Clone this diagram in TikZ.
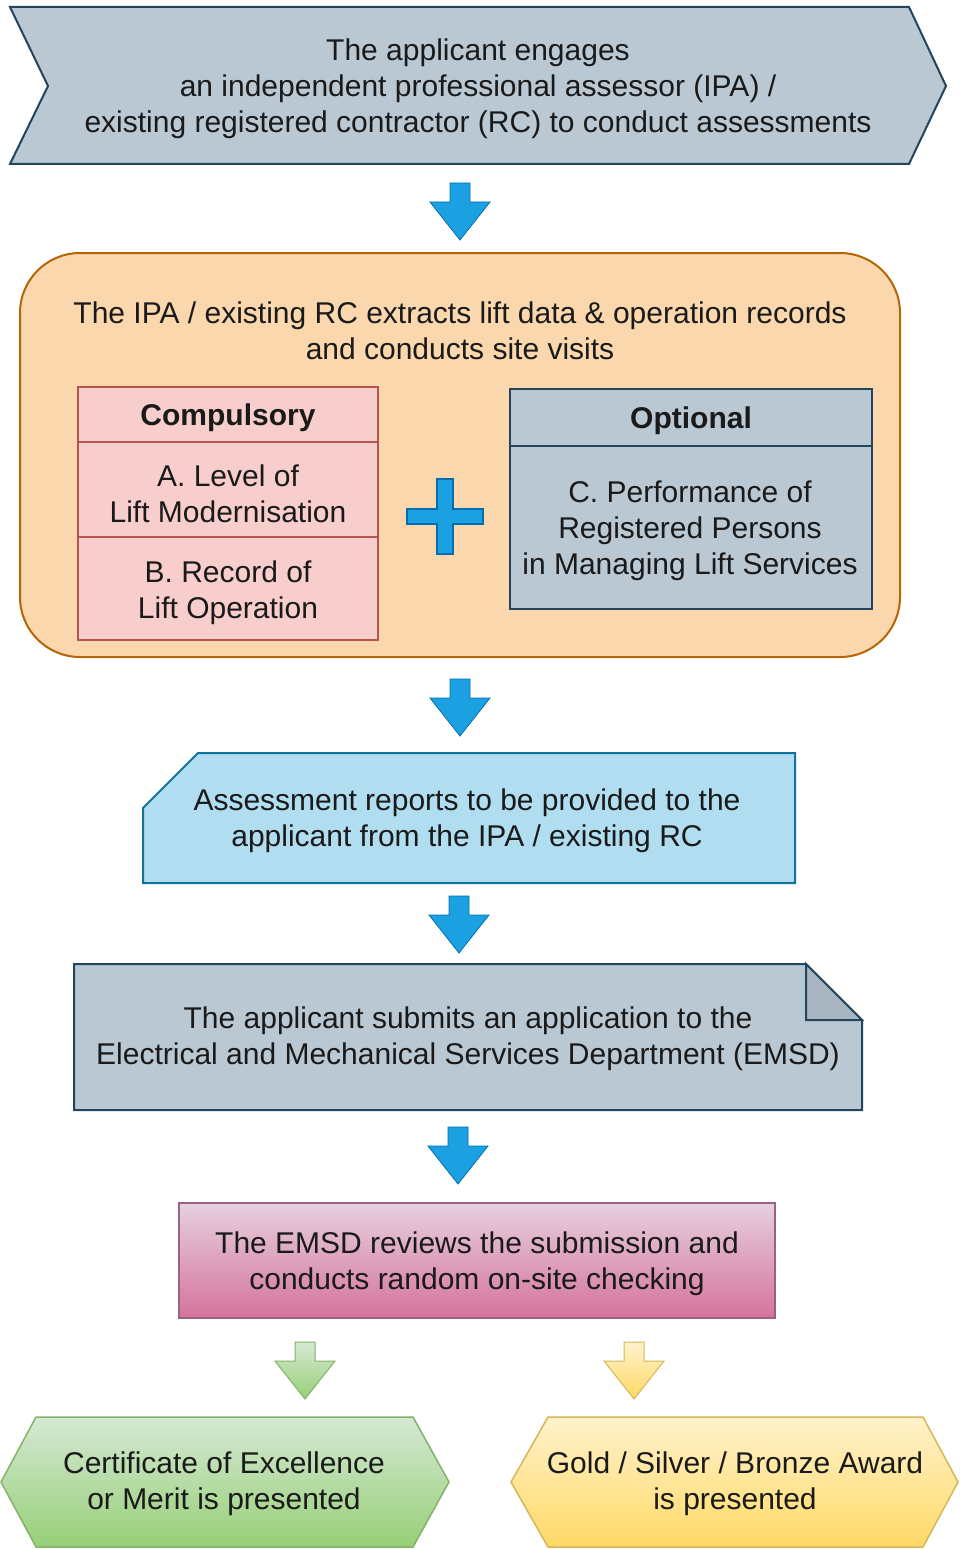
\documentclass[tikz,border=0pt]{standalone}
\usepackage{fontspec}
\setmainfont{Liberation Sans}
\definecolor{grayfill}{HTML}{BAC8D3}
\definecolor{graydraw}{HTML}{23445D}
\definecolor{foldfill}{HTML}{A9B6C1}
\definecolor{orangefill}{HTML}{FAD7AC}
\definecolor{orangedraw}{HTML}{B46504}
\definecolor{pinkfill}{HTML}{F8CECC}
\definecolor{pinkdraw}{HTML}{B85450}
\definecolor{bluefill}{HTML}{1BA1E2}
\definecolor{bluedraw}{HTML}{006EAF}
\definecolor{lbfill}{HTML}{B1DDF0}
\definecolor{lbdraw}{HTML}{10739E}
\definecolor{magtop}{HTML}{E6D0DE}
\definecolor{magbot}{HTML}{D5739D}
\definecolor{magdraw}{HTML}{996185}
\definecolor{greentop}{HTML}{D5E8D4}
\definecolor{greenbot}{HTML}{97D077}
\definecolor{greendraw}{HTML}{82B366}
\definecolor{yeltop}{HTML}{FFF2CC}
\definecolor{yelbot}{HTML}{FFD966}
\definecolor{yeldraw}{HTML}{D6B656}
\definecolor{txtcol}{HTML}{1A1A1A}
\begin{document}
\begin{tikzpicture}[x=1pt,y=-1pt,
  txt/.style={align=center,text=txtcol,font=\fontsize{30}{36}\selectfont,inner sep=0pt,yshift=-3pt},
  boldtxt/.style={txt,font=\fontsize{30}{36}\selectfont\bfseries},
  grayshape/.style={fill=grayfill,draw=graydraw,line width=2},
  pinkcell/.style={rectangle,fill=pinkfill,draw=pinkdraw,line width=2,minimum width=300,inner sep=0pt},
  graycell/.style={rectangle,fill=grayfill,draw=graydraw,line width=2,minimum width=362,inner sep=0pt},
  bluearrow/.style={fill=bluefill,draw=bluedraw,line width=0.8},
  greenarrow/.style={top color=greentop,bottom color=greenbot,draw=greendraw,line width=1},
  yelarrow/.style={top color=yeltop,bottom color=yelbot,draw=yeldraw,line width=1},
  darr/.pic={\path[pic actions] (-10,0) -- (10,0) -- (10,19) -- (30,19) -- (0,57) -- (-30,19) -- (-10,19) -- cycle;}
]
\useasboundingbox (0,0) rectangle (959,1549);

% step 1 chevron
\draw[grayshape] (10,7) -- (909,7) -- (946,86) -- (909,164) -- (10,164) -- (48,86) -- cycle;
\node[txt] (s1) at (478,86) {The applicant engages\\an independent professional assessor (IPA) /\\existing registered contractor (RC) to conduct assessments};

\pic[bluearrow] at (460,183) {darr};

% step 2 container
\node[rectangle,rounded corners=60,fill=orangefill,draw=orangedraw,line width=2,minimum width=880,minimum height=404] (s2) at (460,455) {};
\node[txt] (s2t) at (460,328) {The IPA / existing RC extracts lift data \& operation records\\and conducts site visits};

\node[pinkcell,minimum height=55] (comp) at (228,414.5) {};
\node[pinkcell,minimum height=95] (ca) at (228,489.5) {};
\node[pinkcell,minimum height=103] (cb) at (228,588.5) {};
\node[boldtxt] (compt) at (228,415) {Compulsory};
\node[txt] (cat) at (228,491) {A. Level of\\Lift Modernisation};
\node[txt] (cbt) at (228,590) {B. Record of\\Lift Operation};

\draw[fill=bluefill,draw=bluedraw,line width=1.2] (437,479) -- (453,479) -- (453,509) -- (483,509) -- (483,524) -- (453,524) -- (453,554) -- (437,554) -- (437,524) -- (407,524) -- (407,509) -- (437,509) -- cycle;

\node[graycell,minimum height=57] (opt) at (691,417.5) {};
\node[graycell,minimum height=163] (oc) at (691,527.5) {};
\node[boldtxt] (optt) at (691,418) {Optional};
\node[txt] (oct) at (690,527.5) {C. Performance of\\Registered Persons\\in Managing Lift Services};

\pic[bluearrow] at (460,679) {darr};

% step 3 card
\draw[fill=lbfill,draw=lbdraw,line width=2] (198,753) -- (795,753) -- (795,883) -- (143,883) -- (143,808) -- cycle;
\node[txt] (s3) at (467,818) {Assessment reports to be provided to the\\applicant from the IPA / existing RC};

\pic[bluearrow] at (459,896) {darr};

% step 4 note
\draw[grayshape] (74,964) -- (806,964) -- (862,1020) -- (862,1110) -- (74,1110) -- cycle;
\draw[fill=foldfill,draw=graydraw,line width=2] (806,964) -- (806,1020) -- (862,1020) -- cycle;
\node[txt] (s4) at (468,1036) {The applicant submits an application to the\\Electrical and Mechanical Services Department (EMSD)};

\pic[bluearrow] at (458,1127) {darr};

% step 5
\node[rectangle,top color=magtop,bottom color=magbot,draw=magdraw,line width=1.2,minimum width=596,minimum height=115] (s5) at (477,1260.5) {};
\node[txt] (s5t) at (477,1261) {The EMSD reviews the submission and\\conducts random on-site checking};

\pic[greenarrow] at (305,1342) {darr};
\pic[yelarrow] at (634,1342) {darr};

% results
\path[top color=greentop,bottom color=greenbot] (36,1417) -- (413,1417) -- (449,1482) -- (413,1547) -- (36,1547) -- (1,1482) -- cycle;
\draw[greendraw,line width=1.5] (36,1417) -- (413,1417) -- (449,1482) -- (413,1547) -- (36,1547) -- (1,1482) -- cycle;
\node[txt] (g) at (224,1481) {Certificate of Excellence\\or Merit is presented};

\path[top color=yeltop,bottom color=yelbot] (548,1417) -- (923,1417) -- (958,1482) -- (923,1547) -- (548,1547) -- (511,1482) -- cycle;
\draw[yeldraw,line width=1.5] (548,1417) -- (923,1417) -- (958,1482) -- (923,1547) -- (548,1547) -- (511,1482) -- cycle;
\node[txt] (y) at (735,1481) {Gold / Silver / Bronze Award\\is presented};
\end{tikzpicture}
\end{document}
